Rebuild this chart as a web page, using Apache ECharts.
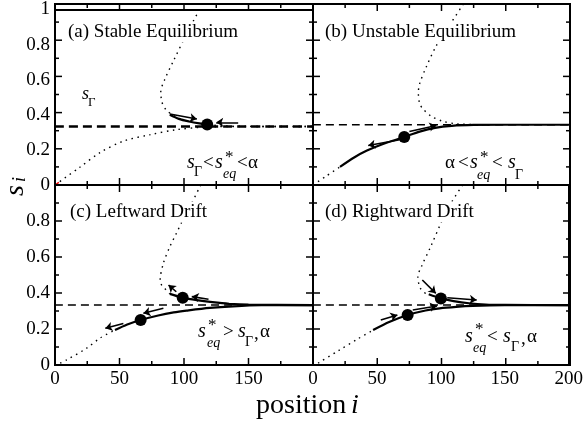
<!DOCTYPE html>
<html>
<head>
<meta charset="utf-8">
<script src="https://cdn.jsdelivr.net/npm/echarts@6/dist/echarts.min.js"></script>
<style>
  html, body { margin: 0; padding: 0; background: #fff; }
  #page { position: relative; width: 586px; height: 425px; }
  .panel { position: absolute; left: 0; top: 0; width: 586px; height: 425px; }
</style>
</head>
<body>
<div id="page">
  <div class="panel" id="pa"></div>
  <div class="panel" id="pb"></div>
  <div class="panel" id="pc"></div>
  <div class="panel" id="pd"></div>
</div>
<script>
// tick values
const xTicks = [0, 50, 100, 150, 200]
const yTicks = [0, 0.2, 0.4, 0.6, 0.8, 1]
const sGamma = 0.333

// (a) stable equilibrium
const aLower = [[0, 0], [19, 0.1], [35, 0.185], [53, 0.25], [74, 0.287], [94, 0.315], [112, 0.328], [125, 0.332], [150, 0.333], [200, 0.333]]
const aUpper = [[112, 1.0], [102, 0.86], [92, 0.71], [85, 0.6], [82, 0.53], [83, 0.47], [86, 0.43], [92, 0.395], [100, 0.37], [110, 0.353], [118, 0.345], [130, 0.337], [150, 0.334], [200, 0.333]]
const aSolid = [[89, 0.4], [96, 0.377], [104, 0.362], [112, 0.351], [118, 0.345]]
const aRed = [[0, 0], [3, 0.015]]
const aPoints = [[118, 0.345]]
const aArrows = [[[89, 0.405], [110, 0.376]], [[142, 0.357], [125, 0.357]]]

// (b) unstable equilibrium
const bLower = [[0, 0], [10, 0.048], [21, 0.1]]
const bSolid = [[21, 0.1], [32, 0.152], [42, 0.19], [55, 0.228], [71, 0.265], [83, 0.295], [95, 0.316], [108, 0.327], [125, 0.332], [150, 0.333], [200, 0.333]]
const bUpper = [[117, 1.0], [106, 0.88], [96, 0.77], [88, 0.65], [83, 0.56], [82, 0.51], [83, 0.45], [86, 0.417], [92, 0.38], [101, 0.352], [112, 0.338], [125, 0.334], [140, 0.333]]
const bPoints = [[71, 0.265]]
const bArrows = [[[67.5, 0.25], [43, 0.218]], [[75, 0.296], [96, 0.329]]]

// (c) leftward drift
const cLower = [[4, 0.01], [9, 0.028], [24.5, 0.093], [35, 0.15], [46.5, 0.194]]
const cSolidLow = [[46.5, 0.194], [56, 0.225], [66.4, 0.25], [80, 0.275], [92, 0.292], [102, 0.302], [120, 0.317], [138, 0.326], [160, 0.332], [200, 0.333]]
const cUpper = [[113, 1.0], [106, 0.9], [98, 0.79], [94, 0.73], [89, 0.657], [84, 0.565], [81.5, 0.47], [83, 0.44], [86.5, 0.415], [89, 0.395]]
const cSolidUp = [[89, 0.395], [99, 0.374], [110, 0.36], [122, 0.349], [135, 0.34], [150, 0.335], [200, 0.333]]
const cPoints = [[99, 0.374], [66.4, 0.25]]
const cArrows = [[[119, 0.365], [106, 0.38]], [[94, 0.407], [88, 0.444]], [[84, 0.315], [68.5, 0.287]], [[53, 0.231], [39, 0.204]]]

// (d) rightward drift
const dLower = [[4, 0.01], [20, 0.08], [35, 0.145], [47, 0.194]]
const dSolidLow = [[47, 0.194], [60, 0.24], [74, 0.278], [88, 0.303], [99, 0.315], [112, 0.323], [125, 0.328], [150, 0.332], [200, 0.333]]
const dUpper = [[117, 1.0], [108, 0.9], [100, 0.787], [92, 0.657], [85, 0.55], [82, 0.49], [84, 0.426], [89.5, 0.39]]
const dSolidUp = [[90.5, 0.393], [100, 0.37], [110, 0.355], [122, 0.343], [135, 0.336], [150, 0.334], [200, 0.333]]
const dPoints = [[100, 0.37], [74, 0.278]]
const dArrows = [[[53, 0.25], [66, 0.278]], [[78, 0.306], [97, 0.328]], [[85.5, 0.472], [96, 0.398]], [[105, 0.374], [128, 0.361]]]

const FONT = "Liberation Serif"

function axisFor(position, ticks, showLabels, showMax) {
  return {
    type: "value", gridIndex: 0, position,
    min: ticks[0], max: ticks[ticks.length - 1], interval: ticks[1] - ticks[0],
    axisLine: { show: true, onZero: false, lineStyle: { color: "#000", width: 2 } },
    axisTick: { show: false },
    minorTick: { show: false },
    splitLine: { show: false },
    axisLabel: { show: showLabels, showMaxLabel: showMax, color: "#000", fontFamily: FONT, fontSize: 19, margin: 5 }
  }
}

// frame and inward ticks (major + one minor between) drawn round a panel
function frameAndTicks(g) {
  const els = [{
    type: "rect", z: 101, silent: true,
    shape: { x: g.left, y: g.top, width: g.width, height: g.height },
    style: { fill: "none", stroke: "#000", lineWidth: 2 }
  }]
  const tick = (x1, y1, x2, y2) => els.push({
    type: "line", z: 101, silent: true,
    shape: { x1, y1, x2, y2 }, style: { stroke: "#000", lineWidth: 1.5 }
  })
  const xMin = xTicks[0], xMax = xTicks[xTicks.length - 1], xStep = (xTicks[1] - xTicks[0]) / 2
  for (let i = 0; xMin + i * xStep <= xMax; i++) {
    const px = g.left + (i * xStep / (xMax - xMin)) * g.width
    const len = i % 2 === 0 ? 7 : 4
    tick(px, g.top + g.height, px, g.top + g.height - len)
    tick(px, g.top, px, g.top + len)
  }
  const yMin = yTicks[0], yMax = yTicks[yTicks.length - 1], yStep = (yTicks[1] - yTicks[0]) / 2
  for (let i = 0; yMin + i * yStep <= yMax + 1e-9; i++) {
    const py = g.top + g.height * (1 - (i * yStep) / (yMax - yMin))
    const len = i % 2 === 0 ? 7 : 4
    tick(g.left, py, g.left + len, py)
    tick(g.left + g.width, py, g.left + g.width - len, py)
  }
  return els
}

const lineStyles = {
  dotted: { width: 1.4, type: [1.5, 4.5], color: "#000" },
  solid: { width: 2.2, type: "solid", color: "#000" },
  dashedThick: { width: 2.4, type: [9, 5], color: "#000" },
  dashed: { width: 1.5, type: [8, 5], color: "#000" },
  red: { width: 1.5, type: "solid", color: "#e00" }
}

function curve(data, kind) {
  return {
    type: "line", data, showSymbol: false, symbol: "none", smooth: 0.3,
    lineStyle: { ...lineStyles[kind] }, silent: true
  }
}

function dots(data) {
  return { type: "scatter", data, symbolSize: 12, itemStyle: { color: "#000", opacity: 1 }, silent: true }
}

function arrows(list) {
  return {
    type: "lines", coordinateSystem: "cartesian2d",
    symbol: ["none", "arrow"], symbolSize: 7,
    lineStyle: { color: "#000", width: 1.6, opacity: 1, curveness: 0 },
    data: list.map((c) => ({ coords: c })), silent: true
  }
}

// text piece at left x, vertical centre y
function piece(t, x, y, size, italic, extra) {
  return {
    type: "text", x, y, z: 100,
    style: {
      text: t, fill: "#000", fontFamily: FONT, fontSize: size,
      fontStyle: italic ? "italic" : "normal",
      align: "left", verticalAlign: "middle", ...extra
    }
  }
}

function panelTitle(t, x, y) {
  return piece(t, x, y, 19, false, { backgroundColor: "#fff", padding: [1, 2] })
}

const gammaLine = [[xTicks[0], sGamma], [xTicks[xTicks.length - 1], sGamma]]

const panels = [
  {
    id: "pa", grid: { left: 55, top: 4, width: 258, height: 181 },
    series: [curve(gammaLine, "dashedThick"), curve(aLower, "dotted"), curve(aUpper, "dotted"),
      curve(aSolid, "solid"), curve(aRed, "red"), dots(aPoints), arrows(aArrows)],
    texts: [
      panelTitle("(a) Stable Equilibrium", 66, 32),
      piece("s", 82, 94, 18, true),
      piece("Γ", 88, 103, 13, false),
      piece("s", 187, 163, 20, true),
      piece("Γ", 194, 172, 14, false),
      piece("<", 203, 163, 19, false),
      piece("s", 215, 163, 20, true),
      piece("*", 225, 158, 17, false),
      piece("eq", 223, 174, 14, true),
      piece("<", 237, 163, 19, false),
      piece("α", 248, 163, 19, false)
    ]
  },
  {
    id: "pb", grid: { left: 313, top: 4, width: 257, height: 181 },
    series: [curve(gammaLine, "dashed"), curve(bLower, "dotted"), curve(bUpper, "dotted"),
      curve(bSolid, "solid"), dots(bPoints), arrows(bArrows)],
    texts: [
      panelTitle("(b) Unstable Equilibrium", 323, 32),
      piece("α", 445, 163, 19, false),
      piece("<", 458, 163, 19, false),
      piece("s", 470, 163, 20, true),
      piece("*", 480, 158, 17, false),
      piece("eq", 477, 175, 14, true),
      piece("<", 492, 163, 19, false),
      piece("s", 508, 163, 20, true),
      piece("Γ", 515, 175, 14, false)
    ]
  },
  {
    id: "pc", grid: { left: 55, top: 185, width: 258, height: 180 },
    series: [curve(gammaLine, "dashed"), curve(cLower, "dotted"), curve(cUpper, "dotted"),
      curve(cSolidLow, "solid"), curve(cSolidUp, "solid"), dots(cPoints), arrows(cArrows)],
    texts: [
      panelTitle("(c) Leftward Drift", 68, 212),
      piece("s", 198, 332, 20, true),
      piece("*", 208, 326, 17, false),
      piece("eq", 207, 343, 14, true),
      piece(">", 223, 332, 19, false),
      piece("s", 238, 332, 20, true),
      piece("Γ", 245, 342, 14, false),
      piece(",", 254, 334, 19, false),
      piece("α", 260, 332, 19, false),
      piece("position", 256, 406, 28, false),
      piece("i", 351, 406, 28, true),
      {
        type: "text", x: 16, y: 196, rotation: Math.PI / 2, z: 100,
        style: { text: "s", fontFamily: FONT, fontSize: 28, fontStyle: "italic", fill: "#000", align: "left", verticalAlign: "middle" }
      },
      {
        type: "text", x: 20, y: 182, rotation: Math.PI / 2, z: 100,
        style: { text: "i", fontFamily: FONT, fontSize: 18, fontStyle: "italic", fill: "#000", align: "left", verticalAlign: "middle" }
      }
    ]
  },
  {
    id: "pd", grid: { left: 313, top: 185, width: 257, height: 180 },
    series: [curve(gammaLine, "dashed"), curve(dLower, "dotted"), curve(dUpper, "dotted"),
      curve(dSolidLow, "solid"), curve(dSolidUp, "solid"), dots(dPoints), arrows(dArrows)],
    texts: [
      panelTitle("(d) Rightward Drift", 323, 212),
      piece("s", 465, 337, 20, true),
      piece("*", 475, 330, 17, false),
      piece("eq", 473, 348, 14, true),
      piece("<", 487, 337, 19, false),
      piece("s", 503, 337, 20, true),
      piece("Γ", 511, 347, 14, false),
      piece(",", 521, 339, 19, false),
      piece("α", 527, 337, 19, false)
    ]
  }
]

panels.forEach((p, pi) => {
  const chart = echarts.init(document.getElementById(p.id))
  chart.setOption({
    animation: false,
    grid: [p.grid],
    xAxis: [axisFor("bottom", xTicks, pi >= 2, pi !== 2), axisFor("top", xTicks, false, true)],
    yAxis: [axisFor("left", yTicks, pi % 2 === 0, pi === 0), axisFor("right", yTicks, false, true)],
    series: p.series,
    graphic: p.texts.concat(frameAndTicks(p.grid))
  })
})
</script>
</body>
</html>
